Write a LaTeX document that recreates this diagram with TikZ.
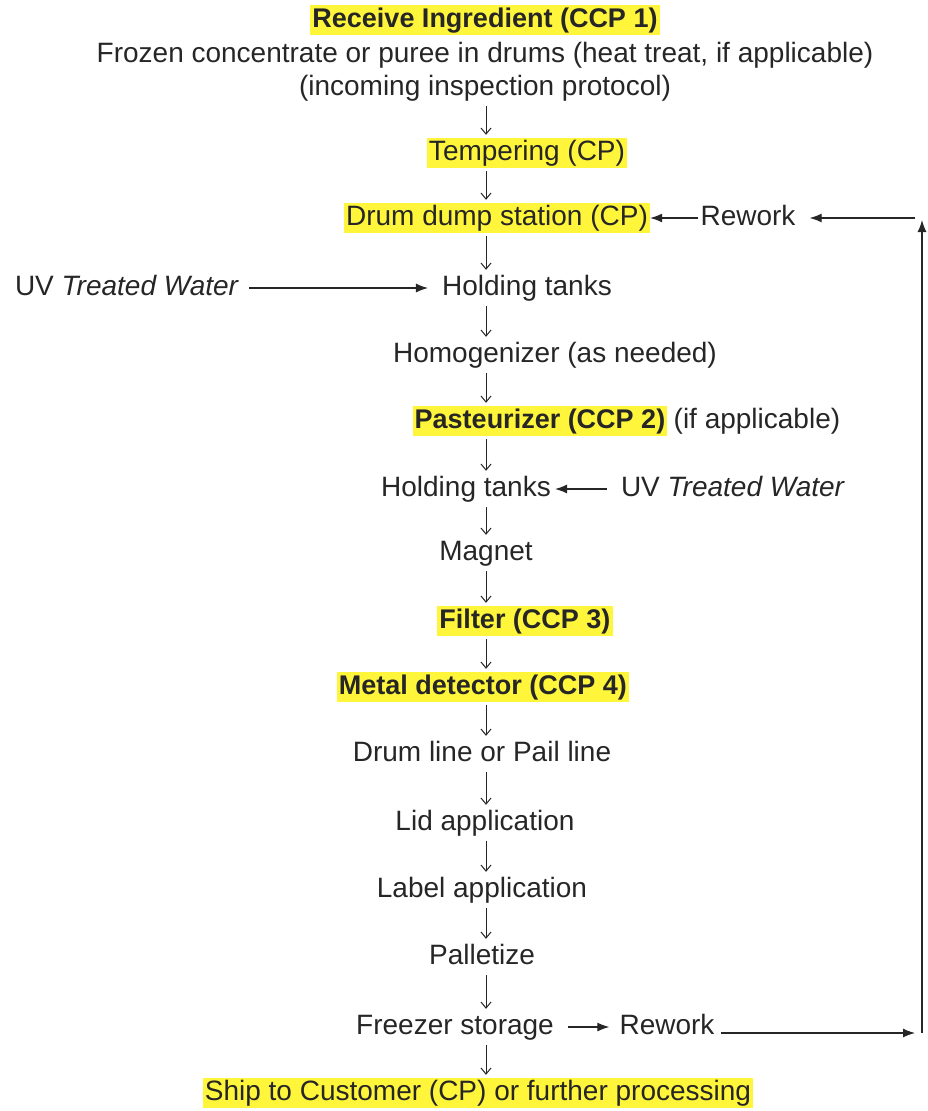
\documentclass[tikz,border=0pt]{standalone}
\usepackage{fontspec}
\setmainfont{Liberation Sans}
\usetikzlibrary{arrows.meta}
\definecolor{hl}{HTML}{FFF53B}
\definecolor{ink}{HTML}{262626}
\begin{document}
\begin{tikzpicture}[x=1pt,y=-1pt,
  every node/.style={font=\fontsize{28}{32}\selectfont, text=ink, inner xsep=2pt, inner ysep=2pt, text height=20pt, text depth=6pt},
  hlbold/.style={fill=hl, font=\fontsize{27}{32}\selectfont\bfseries},
  hlplain/.style={fill=hl},
  dn/.style={draw=ink, line width=1pt, -{Straight Barb[length=6pt,width=10pt]}, shorten <=3pt, shorten >=3pt},
  hz/.style={draw=ink, line width=1.2pt, -{Latex[length=12pt,width=9pt]}}]
\useasboundingbox (0,0) rectangle (928,1111);
\coordinate (col) at (486,0);
\node[hlbold] (rec) at (485,20) {Receive Ingredient (CCP 1)};
\node (froz) at (485,55) {Frozen concentrate or puree in drums (heat treat, if applicable)};
\node (insp) at (485,88) {(incoming inspection protocol)};
\node[hlplain] (temp) at (527,153) {Tempering (CP)};
\node[hlplain] (drum) at (497,218) {Drum dump station (CP)};
\node (rw1) at (748,218) {Rework};
\node (ht1) at (527,288) {Holding tanks};
\node (uv1) at (127,288) {UV \textit{Treated Water}};
\node (hom) at (555,355) {Homogenizer (as needed)};
\node[hlbold] (past) at (540,421) {Pasteurizer (CCP 2)};
\node[anchor=west, xshift=4pt] (ifapp) at (past.east) {(if applicable)};
\node (ht2) at (466,489) {Holding tanks};
\node (uv2) at (733,489) {UV \textit{Treated Water}};
\node (mag) at (486,553) {Magnet};
\node[hlbold] (filt) at (525,621) {Filter (CCP 3)};
\node[hlbold] (met) at (483,687) {Metal detector (CCP 4)};
\node (dl) at (482,754) {Drum line or Pail line};
\node (lid) at (485,823) {Lid application};
\node (lab) at (482,890) {Label application};
\node (pal) at (482,957) {Palletize};
\node (frz) at (455,1027) {Freezer storage};
\node (rw2) at (667,1027) {Rework};
\node[hlplain] (ship) at (478,1093) {Ship to Customer (CP) or further processing};
\coordinate (rt) at (922,220);
\coordinate (rb) at (922,1033);
\coordinate (rtl) at (915,218);
\coordinate (rbl) at (915,1033);
% vertical flow arrows
\foreach \a/\b in {insp/temp, temp/drum, drum/ht1, ht1/hom, hom/past, past/ht2, ht2/mag, mag/filt, filt/met, met/dl, dl/lid, lid/lab, lab/pal, pal/frz, frz/ship}
  \draw[dn] (\a.south -| col) -- (\b.north -| col);
% horizontal arrows
\draw[hz] (rw1.west) -- (drum.east);
\draw[hz, shorten <=8pt, shorten >=12pt] (uv1.east) -- (ht1.west);
\draw[hz, shorten <=12pt, shorten >=2pt] (uv2.west) -- (ht2.east);
\draw[hz, shorten <=12pt, shorten >=8pt] (frz.east) -- (rw2.west);
\draw[hz, shorten <=4pt] (rw2.east |- rbl) -- (rbl);
\draw[hz] (rb) -- (rt);
\draw[hz, shorten >=12pt] (rtl) -- (rw1.east |- rtl);
\end{tikzpicture}
\end{document}
